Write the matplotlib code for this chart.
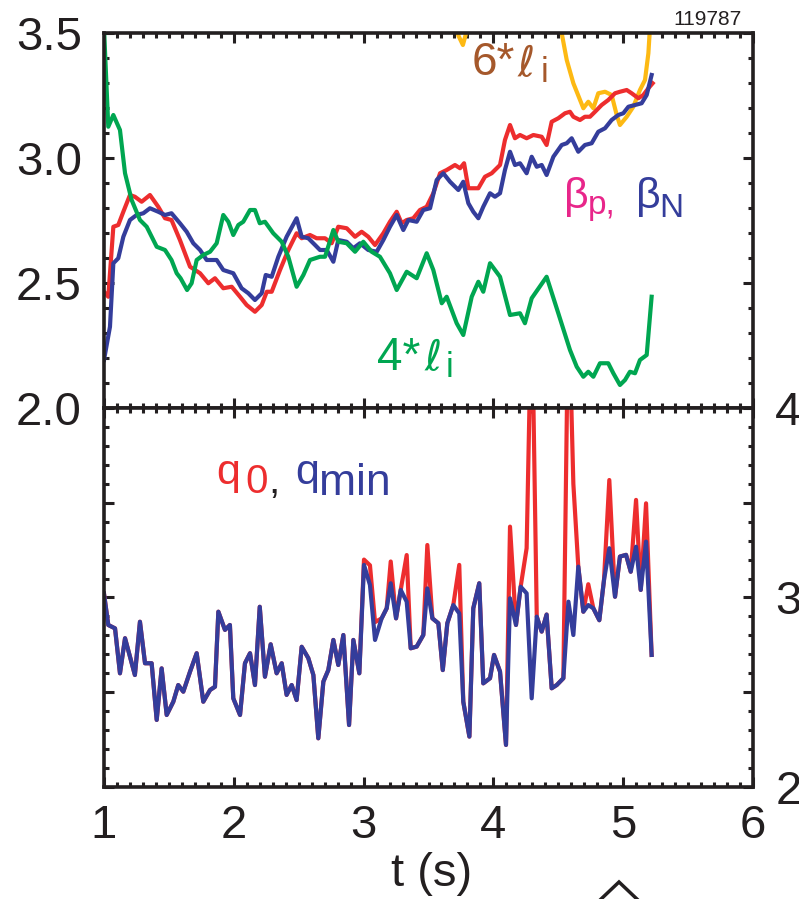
import numpy as np
import matplotlib
matplotlib.use("Agg")
import matplotlib.pyplot as plt
from matplotlib.ticker import MultipleLocator
from matplotlib.patches import Polygon

plt.rcParams['font.family'] = ['Liberation Sans', 'DejaVu Sans']
plt.rcParams['mathtext.fontset'] = 'dejavusans'

# ---- top panel data ----
t_bp = [1.000, 1.033, 1.072, 1.110, 1.149, 1.200, 1.238, 1.290, 1.354, 1.418,
        1.470, 1.520, 1.585, 1.663, 1.740, 1.804, 1.855, 1.919, 1.984, 2.048,
        2.099, 2.163, 2.215, 2.254, 2.292, 2.356, 2.420, 2.484, 2.523, 2.587,
        2.638, 2.703, 2.754, 2.805, 2.870, 2.934, 2.985, 3.036, 3.088, 3.152,
        3.203, 3.255, 3.293, 3.332, 3.383, 3.434, 3.486, 3.537, 3.589, 3.640,
        3.704, 3.743, 3.774, 3.807, 3.884, 3.935, 3.987, 4.051, 4.089, 4.128,
        4.166, 4.205, 4.256, 4.308, 4.372, 4.410, 4.449, 4.500, 4.552, 4.590,
        4.616, 4.667, 4.705, 4.744, 4.783, 4.834, 4.885, 4.937, 4.975, 5.027,
        5.065, 5.117, 5.155, 5.194, 5.227]
beta_p = [2.465, 2.445, 2.725, 2.732, 2.785, 2.852, 2.845, 2.825, 2.852, 2.805,
          2.759, 2.752, 2.672, 2.565, 2.539, 2.499, 2.519, 2.479, 2.485, 2.445,
          2.412, 2.385, 2.412, 2.465, 2.465, 2.552, 2.632, 2.699, 2.679, 2.692,
          2.679, 2.679, 2.659, 2.725, 2.719, 2.685, 2.705, 2.685, 2.652, 2.699,
          2.745, 2.785, 2.739, 2.752, 2.759, 2.792, 2.805, 2.859, 2.939, 2.952,
          2.972, 2.959, 2.979, 2.879, 2.879, 2.925, 2.939, 2.972, 3.072, 3.132,
          3.079, 3.092, 3.079, 3.092, 3.085, 3.052, 3.145, 3.159, 3.179, 3.185,
          3.165, 3.152, 3.165, 3.165, 3.185, 3.212, 3.232, 3.259, 3.265, 3.272,
          3.259, 3.239, 3.252, 3.279, 3.299]

t_bn = [1.000, 1.046, 1.072, 1.110, 1.149, 1.200, 1.251, 1.303, 1.354, 1.418,
        1.470, 1.520, 1.585, 1.637, 1.688, 1.740, 1.791, 1.868, 1.919, 1.996,
        2.060, 2.112, 2.163, 2.215, 2.246, 2.292, 2.343, 2.407, 2.484, 2.523,
        2.574, 2.626, 2.664, 2.716, 2.767, 2.805, 2.870, 2.921, 2.972, 3.036,
        3.101, 3.152, 3.203, 3.255, 3.306, 3.345, 3.409, 3.460, 3.512, 3.563,
        3.614, 3.666, 3.730, 3.768, 3.807, 3.845, 3.884, 3.922, 3.974, 4.012,
        4.051, 4.089, 4.128, 4.166, 4.205, 4.256, 4.295, 4.334, 4.372, 4.410,
        4.462, 4.526, 4.565, 4.603, 4.654, 4.705, 4.757, 4.808, 4.860, 4.911,
        4.962, 5.001, 5.040, 5.091, 5.142, 5.181, 5.219]
beta_n = [2.192, 2.325, 2.579, 2.599, 2.685, 2.752, 2.772, 2.779, 2.799, 2.785,
          2.772, 2.779, 2.739, 2.705, 2.659, 2.632, 2.592, 2.592, 2.552, 2.539,
          2.479, 2.459, 2.432, 2.459, 2.532, 2.525, 2.605, 2.685, 2.759, 2.685,
          2.679, 2.652, 2.632, 2.632, 2.585, 2.672, 2.665, 2.639, 2.659, 2.632,
          2.625, 2.672, 2.725, 2.772, 2.712, 2.752, 2.745, 2.792, 2.799, 2.912,
          2.939, 2.905, 2.872, 2.905, 2.819, 2.785, 2.759, 2.805, 2.859, 2.845,
          2.859, 2.952, 3.025, 2.972, 2.979, 2.939, 3.005, 2.965, 2.972, 2.932,
          3.005, 3.052, 3.059, 3.079, 3.025, 3.052, 3.059, 3.105, 3.119, 3.152,
          3.172, 3.179, 3.205, 3.212, 3.219, 3.252, 3.332]

t_li4 = [1.000, 1.033, 1.072, 1.123, 1.162, 1.213, 1.277, 1.329, 1.406, 1.470,
         1.520, 1.560, 1.590, 1.640, 1.675, 1.714, 1.765, 1.817, 1.868, 1.919,
         1.958, 1.996, 2.035, 2.073, 2.125, 2.163, 2.200, 2.240, 2.304, 2.369,
         2.420, 2.484, 2.536, 2.587, 2.664, 2.703, 2.767, 2.805, 2.870, 2.934,
         2.998, 3.062, 3.126, 3.203, 3.255, 3.332, 3.409, 3.486, 3.537, 3.602,
         3.640, 3.717, 3.768, 3.833, 3.884, 3.922, 3.974, 4.051, 4.128, 4.205,
         4.243, 4.295, 4.410, 4.500, 4.590, 4.642, 4.693, 4.731, 4.770, 4.821,
         4.885, 4.924, 4.975, 5.014, 5.052, 5.091, 5.129, 5.181, 5.219]
li4 = [3.52, 3.125, 3.172, 3.112, 2.939, 2.832, 2.752, 2.725, 2.645, 2.632,
       2.592, 2.539, 2.519, 2.472, 2.499, 2.592, 2.612, 2.625, 2.659, 2.772,
       2.745, 2.692, 2.732, 2.745, 2.792, 2.792, 2.739, 2.745, 2.699, 2.665,
       2.605, 2.485, 2.532, 2.592, 2.605, 2.605, 2.712, 2.665, 2.659, 2.625,
       2.665, 2.625, 2.605, 2.539, 2.472, 2.545, 2.519, 2.619, 2.552, 2.419,
       2.445, 2.339, 2.292, 2.445, 2.505, 2.465, 2.579, 2.525, 2.372, 2.379,
       2.339, 2.439, 2.525, 2.379, 2.232, 2.165, 2.125, 2.145, 2.125, 2.179,
       2.179, 2.139, 2.092, 2.112, 2.145, 2.139, 2.192, 2.212, 2.445]

t_li6 = [3.700, 3.730, 3.765, 3.790, 3.820, 4.500, 4.526, 4.565, 4.616, 4.693,
         4.731, 4.770, 4.808, 4.860, 4.911, 4.950, 4.975, 5.027, 5.078, 5.129,
         5.168, 5.194, 5.206, 5.220]
li6 = [3.58, 3.49, 3.452, 3.50, 3.58, 3.62, 3.50, 3.392, 3.299, 3.199,
       3.225, 3.199, 3.259, 3.265, 3.252, 3.172, 3.132, 3.165, 3.205, 3.272,
       3.312, 3.419, 3.52, 3.60]

# ---- bottom panel data ----
t_q = [1.000, 1.033, 1.085, 1.123, 1.162, 1.200, 1.238, 1.277, 1.316, 1.367,
       1.406, 1.444, 1.483, 1.534, 1.572, 1.611, 1.663, 1.714, 1.765, 1.817,
       1.855, 1.881, 1.932, 1.970, 1.996, 2.048, 2.086, 2.125, 2.163, 2.200,
       2.240, 2.284, 2.330, 2.369, 2.407, 2.446, 2.484, 2.523, 2.574, 2.613,
       2.651, 2.690, 2.728, 2.767, 2.805, 2.844, 2.888, 2.921, 2.967, 3.003,
       3.049, 3.088, 3.139, 3.178, 3.209, 3.250, 3.286, 3.332, 3.363, 3.409,
       3.460, 3.491, 3.530, 3.576, 3.610, 3.645, 3.691, 3.737, 3.768, 3.815,
       3.845, 3.891, 3.922, 3.974, 4.005, 4.051, 4.097, 4.128, 4.174, 4.210,
       4.256, 4.295, 4.334, 4.372, 4.410, 4.449, 4.488, 4.539, 4.578, 4.616,
       4.654, 4.693, 4.731, 4.770, 4.816, 4.852, 4.893, 4.937, 4.975, 5.022,
       5.058, 5.099, 5.135, 5.176, 5.219]
q_min = [3.02, 2.855, 2.837, 2.60, 2.785, 2.688, 2.591, 2.872, 2.653, 2.653,
         2.354, 2.626, 2.38, 2.45, 2.538, 2.503, 2.609, 2.706, 2.45, 2.512,
         2.529, 2.925, 2.829, 2.855, 2.468, 2.38, 2.653, 2.706, 2.538, 2.951,
         2.582, 2.753, 2.60, 2.653, 2.486, 2.538, 2.459, 2.74, 2.68, 2.591,
         2.257, 2.556, 2.617, 2.776, 2.644, 2.802, 2.327, 2.776, 2.60, 3.172,
         3.066, 2.776, 2.89, 2.943, 3.075, 2.89, 3.04, 2.978, 2.732, 2.741,
         2.802, 3.048, 2.89, 2.864, 2.617, 2.864, 2.96, 2.916, 2.45, 2.266,
         2.943, 3.075, 2.547, 2.574, 2.697, 2.609, 2.222, 2.996, 2.855, 3.057,
         3.022, 2.468, 2.899, 2.82, 2.91, 2.521, 2.538, 2.574, 2.978, 2.802,
         3.163, 2.925, 2.96, 2.943, 2.88, 3.092, 3.26, 3.004, 3.216, 3.225,
         3.136, 3.268, 3.04, 3.295, 2.697]
q_0 = [3.02, 2.855, 2.837, 2.60, 2.785, 2.688, 2.591, 2.872, 2.653, 2.653,
       2.354, 2.626, 2.38, 2.45, 2.538, 2.503, 2.609, 2.706, 2.45, 2.512,
       2.529, 2.925, 2.829, 2.855, 2.468, 2.38, 2.653, 2.706, 2.538, 2.951,
       2.582, 2.753, 2.60, 2.653, 2.486, 2.538, 2.459, 2.74, 2.68, 2.591,
       2.257, 2.556, 2.617, 2.776, 2.644, 2.802, 2.327, 2.776, 2.60, 3.20,
       3.17, 2.87, 2.89, 2.943, 3.19, 2.89, 3.04, 3.224, 2.732, 2.741,
       2.802, 3.277, 2.89, 2.864, 2.617, 2.864, 2.96, 3.172, 2.45, 2.266,
       2.943, 3.075, 2.547, 2.574, 2.697, 2.609, 2.222, 3.374, 2.855, 3.057,
       3.26, 4.6, 2.899, 2.82, 2.91, 2.521, 2.538, 2.574, 4.6, 3.6,
       3.163, 2.925, 3.07, 2.943, 2.88, 3.092, 3.62, 3.004, 3.216, 3.225,
       3.136, 3.515, 3.04, 3.497, 2.697]

RED = '#ed2d2e'
BLUE = '#343d9b'
GREEN = '#00a651'
ORANGE = '#fdb913'
BROWN = '#a5582b'
MAGENTA = '#e8268a'
INK = '#231f20'

W, H = 799, 899
fig = plt.figure(figsize=(W / 100, H / 100), dpi=100)
ax1 = fig.add_axes([104 / W, 1 - 408 / H, 649 / W, 375 / H])
ax2 = fig.add_axes([104 / W, 1 - 787 / H, 649 / W, 379 / H])

lw = 3.0
ax1.plot(t_li6, li6, color=ORANGE, lw=lw)
ax1.plot(t_bp, beta_p, color=RED, lw=lw)
ax1.plot(t_bn, beta_n, color=BLUE, lw=lw)
ax1.plot(t_li4, li4, color=GREEN, lw=lw)
ax1.set_xlim(1, 6)
ax1.set_ylim(2.0, 3.5)
ax1.set_yticks([2.0, 2.5, 3.0, 3.5])
ax1.set_yticklabels(['2.0', '2.5', '3.0', '3.5'])

ax2.plot(t_q, q_0, color=RED, lw=lw)
ax2.plot(t_q, q_min, color=BLUE, lw=lw)
ax2.set_xlim(1, 6)
ax2.set_ylim(2, 4)
ax2.set_yticks([2, 2.5, 3, 3.5, 4])
ax2.set_yticklabels(['2', '', '3', '', '4'])

for ax in (ax1, ax2):
    ax.set_xticks([1, 2, 3, 4, 5, 6])
    ax.xaxis.set_minor_locator(MultipleLocator(0.1))
    ax.yaxis.set_minor_locator(MultipleLocator(0.1))
    ax.tick_params(which='both', direction='in', top=True, right=True,
                   width=2.2, colors=INK, labelcolor=INK)
    ax.tick_params(which='major', length=7)
    ax.tick_params(which='minor', length=3.5)
    for sp in ax.spines.values():
        sp.set_linewidth(2.6)
        sp.set_color(INK)

ax1.tick_params(labelbottom=False, labelsize=34, pad=16)
ax2.tick_params(labelleft=False, labelright=True, labelsize=34)
ax2.tick_params(axis='y', pad=16)
ax2.tick_params(axis='x', pad=12)


def lab(px, py, s, c, fs, **kw):
    fig.text(px / W, 1 - py / H, s, color=c, fontsize=fs, va='baseline', **kw)


lab(432, 886, 't (s)', INK, 34, ha='center')
lab(742, 25, '119787', INK, 15, ha='right')

# 6*l_i
lab(472, 75, '6*', BROWN, 33)
lab(517, 76, r'$\ell$', BROWN, 30)
lab(541, 82, 'i', BROWN, 25)
# beta_p, beta_N
lab(564, 208, '\u03b2', MAGENTA, 31)
lab(588, 214, 'p,', MAGENTA, 24)
lab(636, 208, '\u03b2', BLUE, 31)
lab(659, 217, 'N', BLUE, 24)
# 4*l_i
lab(377, 370, '4*', GREEN, 33)
lab(424, 370, r'$\ell$', GREEN, 30)
lab(446, 377, 'i', GREEN, 25)
# q_0, q_min
lab(216, 484, 'q', RED, 31)
lab(245, 493, '0', RED, 29)
lab(268, 493, ',', INK, 29)
lab(295, 484, 'q', BLUE, 31)
lab(319, 495, 'min', BLUE, 32)

# outlined up-arrow marker below the axis (cut by the bottom edge)
arrow = [(619, 882), (599, 901), (606, 901), (606, 940), (632, 940),
         (632, 901), (639, 901)]
fig.patches.append(Polygon([(x / W, 1 - y / H) for x, y in arrow], closed=True,
                           transform=fig.transFigure, facecolor='white',
                           edgecolor=INK, lw=2.5))

fig.savefig('out.png', dpi=100)
